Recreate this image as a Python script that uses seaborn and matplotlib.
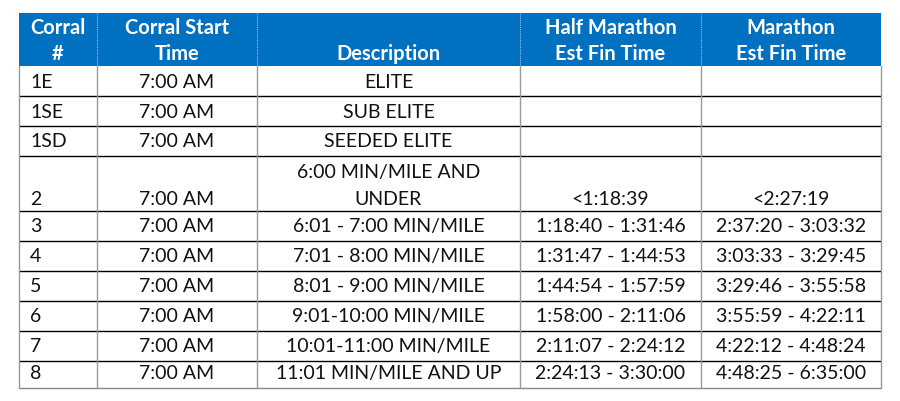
import matplotlib.pyplot as plt
import seaborn as sns
from matplotlib.patches import Rectangle

sns.set_theme(style="white")
plt.rcParams['font.family'] = ['Lato', 'DejaVu Sans']

# table content
headers = ["Corral\n#", "Corral Start\nTime", "Description", "Half Marathon\nEst Fin Time", "Marathon\nEst Fin Time"]
corrals = ["1E", "1SE", "1SD", "2", "3", "4", "5", "6", "7", "8"]
start_times = ["7:00 AM"] * 10
descriptions = ["ELITE", "SUB ELITE", "SEEDED ELITE", "6:00 MIN/MILE AND\nUNDER",
                "6:01 - 7:00 MIN/MILE", "7:01 - 8:00 MIN/MILE", "8:01 - 9:00 MIN/MILE",
                "9:01-10:00 MIN/MILE", "10:01-11:00 MIN/MILE", "11:01 MIN/MILE AND UP"]
half_times = ["", "", "", "<1:18:39", "1:18:40 - 1:31:46", "1:31:47 - 1:44:53",
              "1:44:54 - 1:57:59", "1:58:00 - 2:11:06", "2:11:07 - 2:24:12", "2:24:13 - 3:30:00"]
full_times = ["", "", "", "<2:27:19", "2:37:20 - 3:03:32", "3:03:33 - 3:29:45",
              "3:29:46 - 3:55:58", "3:55:59 - 4:22:11", "4:22:12 - 4:48:24", "4:48:25 - 6:35:00"]

# layout (pixels)
col_edges = [19, 97, 257, 520, 701, 881]
header_top, header_bot = 14, 67
row_heights = [30, 30, 30, 55, 30, 30, 30, 30, 30, 27]
blue = "#0070C0"
body_fs, head_fs = 14, 14.5

fig = plt.figure(figsize=(9, 4.02), dpi=100)
ax = fig.add_axes([0, 0, 1, 1])
ax.set_xlim(0, 900)
ax.set_ylim(402, 0)
ax.axis("off")

# header
ax.add_patch(Rectangle((col_edges[0], header_top), col_edges[-1] - col_edges[0],
                       header_bot - header_top, color=blue, lw=0))
for x in col_edges[1:-1]:
    ax.plot([x, x], [header_top, header_bot], color="#9cc3e6", lw=0.8, ls=(0, (1, 1)))
for i, h in enumerate(headers):
    xc = (col_edges[i] + col_edges[i + 1]) / 2
    if "\n" in h:
        l1, l2 = h.split("\n")
        ax.text(xc, 28, l1, ha="center", va="center", color="white", fontsize=head_fs, fontweight="bold")
        ax.text(xc, 54, l2, ha="center", va="center", color="white", fontsize=head_fs, fontweight="bold")
    else:
        ax.text(xc, 54, h, ha="center", va="center", color="white", fontsize=head_fs, fontweight="bold")

# body
y = header_bot
rows = list(zip(corrals, start_times, descriptions, half_times, full_times))
tops = []
for r, cells in enumerate(rows):
    h = row_heights[r]
    tops.append(y)
    ybase = y + h - 15 if h < 40 else y + h - 12
    for c, txt in enumerate(cells):
        if not txt:
            continue
        if c == 0:
            xp, ha = 30, "left"
        else:
            xp, ha = (col_edges[c] + col_edges[c + 1]) / 2, "center"
        if "\n" in txt:
            l1, l2 = txt.split("\n")
            ax.text(xp, ybase - 27, l1, ha=ha, va="center", color="#111111", fontsize=body_fs)
            ax.text(xp, ybase, l2, ha=ha, va="center", color="#111111", fontsize=body_fs)
        else:
            ax.text(xp, ybase, txt, ha=ha, va="center", color="#111111", fontsize=body_fs)
    y += h
bottom = y

# grid lines
for t in tops[1:]:
    ax.plot([col_edges[0], col_edges[-1]], [t, t], color="black", lw=1.0)
ax.plot([col_edges[0], col_edges[-1]], [bottom, bottom], color="#888888", lw=1.0)
for x in col_edges:
    ax.plot([x, x], [header_bot, bottom], color="#999999", lw=1.0)

fig.savefig("out.png", dpi=100)
